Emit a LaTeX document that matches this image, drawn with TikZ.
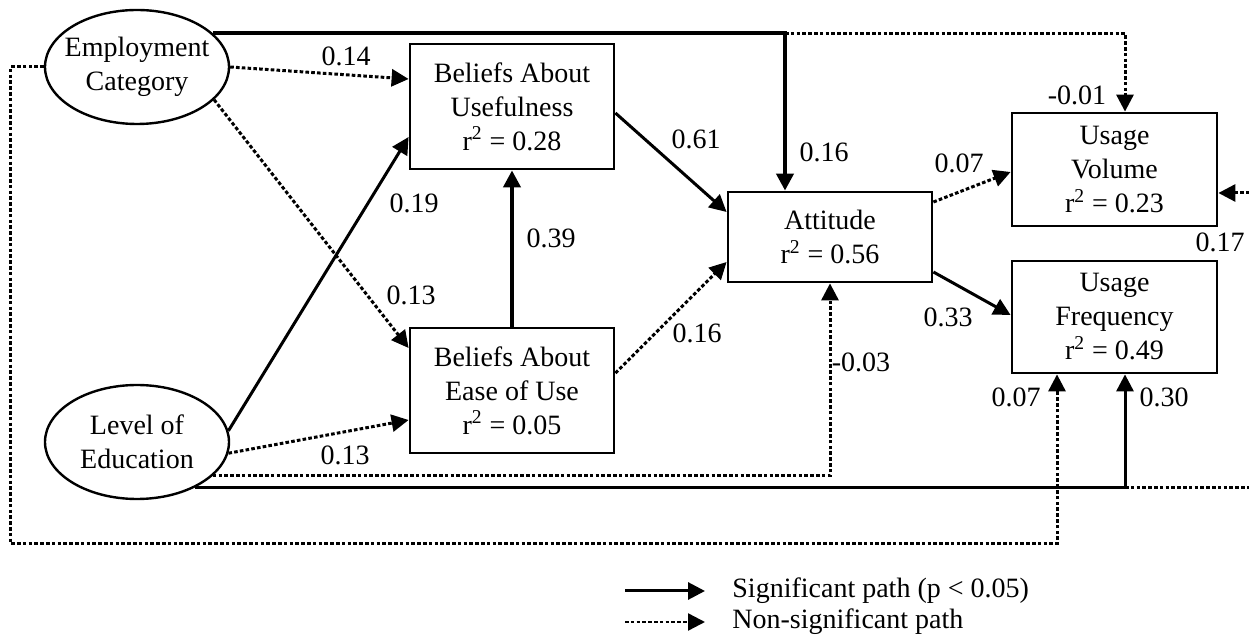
\documentclass[tikz,border=0pt]{standalone}
\usepackage{fontspec}
\setmainfont{Liberation Serif}
\usetikzlibrary{arrows.meta,shapes.geometric}
\begin{document}
\begin{tikzpicture}[x=0.5pt,y=-0.5pt,
  font=\fontsize{14pt}{17pt}\selectfont,
  box/.style={draw,line width=1.4pt,minimum width=102pt,inner sep=0pt,align=center},
  ell/.style={draw,ellipse,line width=1.2pt,minimum width=92pt,minimum height=57pt,inner sep=0pt},
  sig/.style={line width=1.5pt,-{Triangle[length=8.5pt,width=8.5pt]}},
  thick sig/.style={sig,line width=2pt},
  nsig/.style={line width=1.5pt,dash pattern=on 1.8pt off 1.1pt,-{Triangle[length=8.5pt,width=8.5pt]}},
  lab/.style={inner sep=0pt}]
\useasboundingbox (0,0) rectangle (1249,641);
\clip (0,0) rectangle (1249,641);

% nodes
\node[ell,label={[align=center,inner sep=0pt]center:Employment\\Category}] (emp) at (137,67) {};
\node[ell,label={[align=center,inner sep=0pt]center:Level of\\Education}] (edu) at (137,442) {};
\node[box,minimum height=62.5pt] (usef) at (512,106.5) {Beliefs About\\Usefulness\\r\textsuperscript{2} = 0.28};
\node[box,minimum height=62.5pt] (ease) at (512,390.5) {Beliefs About\\Ease of Use\\r\textsuperscript{2} = 0.05};
\node[box,minimum height=45pt] (att) at (830,237) {Attitude\\r\textsuperscript{2} = 0.56};
\node[box,minimum width=102.5pt,minimum height=56.5pt] (uvol) at (1114.5,169.5) {Usage\\Volume\\r\textsuperscript{2} = 0.23};
\node[box,minimum width=102.5pt,minimum height=56pt] (ufreq) at (1114.5,317) {Usage\\Frequency\\r\textsuperscript{2} = 0.49};

% connectors
\draw[nsig] (emp.east) -- ([yshift=13.75pt]usef.west);
\draw[nsig] (emp.-23.6) -- ([yshift=21.25pt]ease.west);
\draw[sig] (edu.7.6) -- ([yshift=-15.25pt]usef.west);
\draw[nsig] (edu.-7) -- ([yshift=-14.75pt]ease.west);
\draw[thick sig] (ease.north) -- (usef.south);
\draw[sig] ([yshift=-3.25pt]usef.east) -- ([yshift=12.5pt]att.west);
\draw[nsig] ([yshift=8.75pt]ease.east) -- ([yshift=-12.5pt]att.west);
\draw[thick sig] (emp.24.7) -| ([xshift=-22.5pt]att.north) node[pos=0.5,coordinate] (j1) {};
\draw[nsig] (j1) -| ([xshift=5.25pt]uvol.north);
\draw[nsig] ([yshift=17.5pt]att.east) -- ([yshift=-1.25pt]uvol.west);
\draw[sig] ([yshift=-17.5pt]att.east) -- ([yshift=1pt]ufreq.west);
\draw[nsig] (edu.-24.7) -| (att.south);
\draw[sig] (edu.-38.5) -| ([xshift=5.25pt]ufreq.south) node[pos=0.5,coordinate] (j2) {};
\draw[nsig] (j2) -- ++(150,0) |- ([yshift=-11.75pt]uvol.east);
\draw[nsig] (emp.west) -- ++(-33,0) -- ++(0,477) -| ([xshift=-28.75pt]ufreq.south);

% labels
\node[lab] (l1) at (346,56) {0.14};
\node[lab] (l2) at (411,295) {0.13};
\node[lab] (l3) at (414,203) {0.19};
\node[lab] (l4) at (345,455) {0.13};
\node[lab] (l5) at (551,238) {0.39};
\node[lab] (l6) at (696,139) {0.61};
\node[lab] (l7) at (697,333) {0.16};
\node[lab] (l8) at (824,152) {0.16};
\node[lab] (l9) at (1077,95) {-0.01};
\node[lab] (l10) at (959,163) {0.07};
\node[lab] (l11) at (948,317) {0.33};
\node[lab] (l12) at (861,362) {-0.03};
\node[lab] (l13) at (1220,242) {0.17};
\node[lab] (l14) at (1016,397) {0.07};
\node[lab] (l15) at (1164,397) {0.30};

% legend
\coordinate (ls1) at (625,591);
\coordinate (le1) at (705,591);
\coordinate (ls2) at (625,622);
\coordinate (le2) at (705,622);
\draw[sig] (ls1) -- (le1);
\draw[nsig,line width=1.2pt] (ls2) -- (le2);
\node[lab,anchor=west] (lt1) at (732,591) {Significant path (p < 0.05)};
\node[lab,anchor=west] (lt2) at (732,622) {Non-significant path};
\end{tikzpicture}
\end{document}
